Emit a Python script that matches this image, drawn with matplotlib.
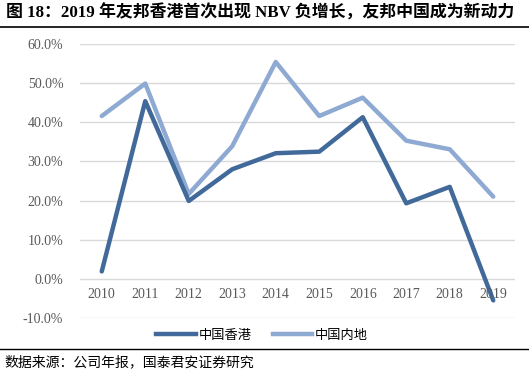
import matplotlib
matplotlib.use("Agg")
import matplotlib.pyplot as plt
from matplotlib.lines import Line2D

years = ["2010", "2011", "2012", "2013", "2014", "2015", "2016", "2017", "2018", "2019"]
hk = [1.9, 45.4, 19.9, 28.0, 32.1, 32.5, 41.3, 19.3, 23.5, -5.5]
mainland = [41.6, 49.9, 21.7, 33.9, 55.4, 41.6, 46.3, 35.3, 33.1, 21.0]
yticks = [-10, 0, 10, 20, 30, 40, 50, 60]

title = "图 18：2019 年友邦香港首次出现 NBV 负增长，友邦中国成为新动力"
source = "数据来源：公司年报，国泰君安证券研究"

cjk = ["Noto Sans CJK SC", "DejaVu Sans"]
serif_cjk = ["Liberation Serif", "Noto Sans CJK SC"]

fig = plt.figure(figsize=(5.29, 3.76), dpi=100)
W, H = 529, 376
# plot area: x 80..515, y 44 (60%) .. 318 (-10%)
ax = fig.add_axes([80 / W, 1 - 318 / H, 435 / W, (318 - 44) / H])

x = range(len(years))
ax.plot(x, hk, color="#41699A", lw=3.2, solid_capstyle="round", label="中国香港", zorder=3)
ax.plot(x, mainland, color="#8EA9D2", lw=3.2, solid_capstyle="round", label="中国内地", zorder=2)

ax.set_xlim(-0.5, len(years) - 0.5)
ax.set_ylim(-10, 60)
ax.set_yticks(yticks)
ax.set_yticklabels([f"{v:.1f}%" for v in yticks], family="Liberation Serif", fontsize=10, color="#595959")
ax.yaxis.grid(True, color="#D9D9D9", lw=1)
ax.set_axisbelow(True)
ax.tick_params(axis="y", length=0, pad=12)
ax.set_xticks([])
for s in ax.spines.values():
    s.set_visible(False)

# category labels sit just under the 0% line
for i, yr in enumerate(years):
    ax.text(i, -2.4, yr, ha="center", va="top", family="Liberation Serif", fontsize=10, color="#595959")

handles = [Line2D([], [], color="#41699A", lw=3.2), Line2D([], [], color="#8EA9D2", lw=3.2)]
fig.legend(handles, ["中国香港", "中国内地"], loc="center", bbox_to_anchor=(262 / W, 1 - 335 / H),
           ncol=2, frameon=False, prop={"family": cjk, "size": 9.5}, handlelength=3.0,
           handletextpad=0.2, columnspacing=1.6)

fig.text(6 / W, 1 - 13 / H, title, ha="left", va="center", family=serif_cjk, fontsize=12.2,
         fontweight="bold", color="black")
fig.add_artist(Line2D([0, 1], [1 - 27 / H, 1 - 27 / H], color="black", lw=1.2))
fig.add_artist(Line2D([0, 1], [1 - 349 / H, 1 - 349 / H], color="black", lw=1.0))
fig.text(4 / W, 1 - 362 / H, source, ha="left", va="center", family=cjk, fontsize=10, color="black")

fig.savefig("out.png", dpi=100)
